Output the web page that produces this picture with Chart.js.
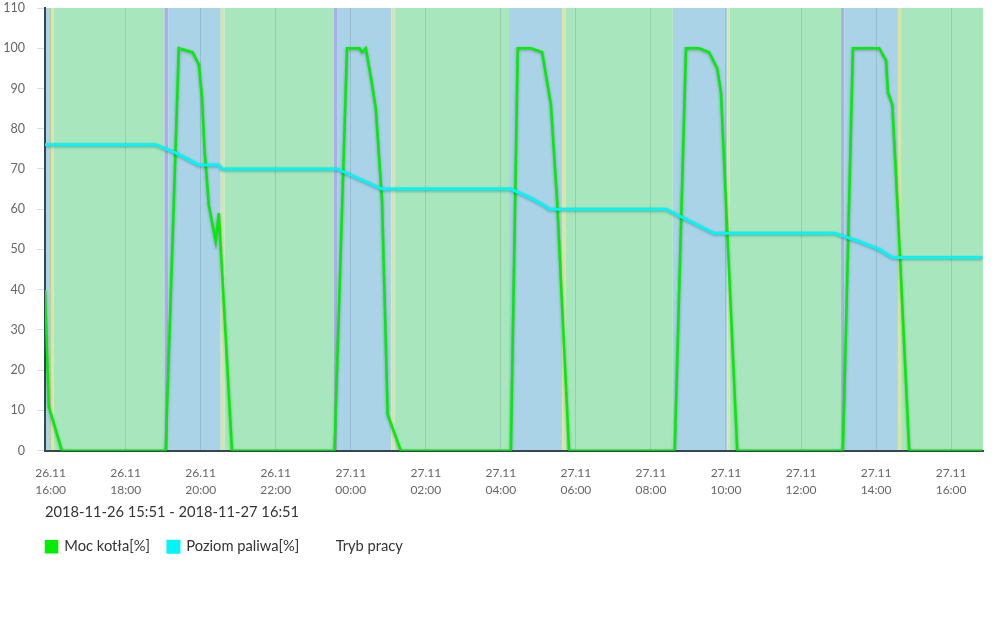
<!DOCTYPE html>
<html>
<head>
<meta charset="utf-8">
<script src="https://cdn.jsdelivr.net/npm/chart.js@4"></script>
<style>
  body { margin: 0; background: #fff; }
  #wrap { width: 1000px; height: 637px; position: relative; }
</style>
</head>
<body>
<div id="wrap"><canvas id="kociolChart"></canvas></div>
<script>
// times are "day.month HH:MM", all in 2018-11
const powerTimes = ['26.11 15:51', '26.11 15:57', '26.11 16:18', '26.11 19:04', '26.11 19:25', '26.11 19:47', '26.11 19:57', '26.11 20:02',
    '26.11 20:06', '26.11 20:13', '26.11 20:24', '26.11 20:29', '26.11 20:50', '26.11 23:34', '26.11 23:54', '27.11 00:14',
    '27.11 00:18', '27.11 00:24', '27.11 00:32', '27.11 00:40', '27.11 00:50', '27.11 00:59', '27.11 01:20', '27.11 04:16',
    '27.11 04:27', '27.11 04:48', '27.11 05:06', '27.11 05:20', '27.11 05:30', '27.11 05:49', '27.11 08:38', '27.11 08:56',
    '27.11 09:17', '27.11 09:33', '27.11 09:46', '27.11 09:52', '27.11 10:18', '27.11 13:07', '27.11 13:23', '27.11 14:05',
    '27.11 14:16', '27.11 14:19', '27.11 14:26', '27.11 14:34', '27.11 14:53', '27.11 16:50'];
const powerValues = [40, 11, 0, 0, 100, 99, 96, 88,
    75, 61, 52, 59, 0, 0, 100, 100,
    99, 100, 93, 85, 62, 9, 0, 0,
    100, 100, 99, 86, 62, 0, 0, 100,
    100, 99, 95, 89, 0, 0, 100, 100,
    97, 89, 86, 62, 0, 0];

const fuelTimes = ['26.11 15:51', '26.11 18:48', '26.11 19:20', '26.11 19:57', '26.11 20:02', '26.11 20:29', '26.11 20:34', '26.11 23:38',
    '27.11 00:50', '27.11 04:16', '27.11 04:45', '27.11 05:09', '27.11 05:17', '27.11 08:24', '27.11 09:41', '27.11 12:54',
    '27.11 13:33', '27.11 14:05', '27.11 14:26', '27.11 16:50'];
const fuelValues = [76, 76, 74, 71, 71, 71, 70, 70,
    65, 65, 63, 61, 60, 60, 54, 54,
    52, 50, 48, 48];

// Tryb pracy: each mode starts at modeStarts[i] and lasts until the next one
const modeStarts = ['26.11 15:51', '26.11 15:59', '26.11 16:05', '26.11 19:02', '26.11 19:08', '26.11 20:32', '26.11 20:38',
    '26.11 23:33', '26.11 23:38', '27.11 01:05', '27.11 01:10', '27.11 04:13', '27.11 05:38', '27.11 05:44', '27.11 08:35',
    '27.11 10:02', '27.11 10:06', '27.11 13:04', '27.11 13:09', '27.11 14:35', '27.11 14:40'];
const modeTypes = ['praca', 'wygaszanie', 'nadzor', 'rozpalanie', 'praca', 'wygaszanie', 'nadzor',
    'rozpalanie', 'praca', 'wygaszanie', 'nadzor', 'praca', 'wygaszanie', 'nadzor', 'praca',
    'wygaszanie', 'nadzor', 'rozpalanie', 'praca', 'wygaszanie', 'nadzor'];
const modeColors = {
    praca: '#aad3e8',
    nadzor: '#a8e7be',
    wygaszanie: '#d5e6a8',
    rozpalanie: '#aab0e6'
};

const rangeText = '2018-11-26 15:51 - 2018-11-27 16:51';
const startMinute = 15 * 60 + 51;
const rangeMinutes = 25 * 60;
const tickMinutes = [9, 129, 249, 369, 489, 609, 729, 849, 969, 1089, 1209, 1329, 1449];

function toMin(s) {
    const day = parseInt(s.slice(0, 2));
    const h = parseInt(s.slice(6, 8));
    const m = parseInt(s.slice(9, 11));
    return (day - 26) * 1440 + h * 60 + m - startMinute;
}

function pad(n) { return (n < 10 ? '0' : '') + n; }

Chart.defaults.font.family = 'Lato';

const bandsPlugin = {
    id: 'bands',
    beforeDraw(chart) {
        const { ctx, chartArea, scales } = chart;
        ctx.save();
        for (let i = 0; i < modeStarts.length; i++) {
            const x1 = scales.x.getPixelForValue(toMin(modeStarts[i]));
            const x2 = i + 1 < modeStarts.length ? scales.x.getPixelForValue(toMin(modeStarts[i + 1])) : chartArea.right;
            ctx.fillStyle = modeColors[modeTypes[i]];
            ctx.fillRect(x1, chartArea.top, x2 - x1, chartArea.bottom - chartArea.top);
        }
        ctx.restore();
    },
    afterLayout(chart) {
        // legend starts right at the plot's left edge
        if (chart.legend) chart.legend.left = chart.chartArea.left - 17;
    },
    beforeDatasetDraw(chart) {
        const ctx = chart.ctx;
        ctx.save();
        ctx.shadowColor = 'rgba(0,0,0,0.3)';
        ctx.shadowBlur = 3;
        ctx.shadowOffsetY = 1;
    },
    afterDatasetDraw(chart) {
        chart.ctx.restore();
    }
};

const ctx = document.getElementById('kociolChart').getContext('2d');
const kociolChart = new Chart(ctx, {
    type: 'line',
    data: {
        datasets: [
            {
                label: 'Moc kotła[%]',
                data: powerTimes.map((t, i) => ({ x: toMin(t), y: powerValues[i] })),
                borderColor: '#00ee00',
                backgroundColor: '#00ee00',
                borderWidth: 2.5,
                pointRadius: 0,
                order: 1
            },
            {
                label: 'Poziom paliwa[%]',
                data: fuelTimes.map((t, i) => ({ x: toMin(t), y: fuelValues[i] })),
                borderColor: '#00f6f6',
                backgroundColor: '#00f6f6',
                borderWidth: 3,
                pointRadius: 0,
                order: 0
            },
            {
                label: 'Tryb pracy',
                data: [],
                borderColor: 'transparent',
                backgroundColor: 'transparent',
                borderWidth: 0,
                order: 2
            }
        ]
    },
    options: {
        responsive: true,
        maintainAspectRatio: false,
        animation: false,
        layout: { padding: { top: 8, right: 17, bottom: 73, left: 0 } },
        scales: {
            x: {
                type: 'linear',
                min: 0,
                max: rangeMinutes,
                afterBuildTicks: axis => { axis.ticks = tickMinutes.map(v => ({ value: v })); },
                afterFit: axis => { axis.height = 47; },
                ticks: {
                    autoSkip: false,
                    maxRotation: 0,
                    padding: 14,
                    color: '#666',
                    font: { size: 12, lineHeight: 1.4 },
                    callback: v => {
                        const total = v + startMinute;
                        const day = 26 + Math.floor(total / 1440);
                        const hm = total % 1440;
                        return [day + '.11', pad(Math.floor(hm / 60)) + ':' + pad(hm % 60)];
                    }
                },
                grid: { color: 'rgba(0,0,0,0.1)', drawTicks: false },
                border: { color: '#37474f', width: 2 }
            },
            y: {
                min: 0,
                max: 110,
                afterFit: axis => {
                    axis.width = 45;
                    axis.paddingTop = 0;
                    axis.paddingBottom = 0;
                },
                ticks: { stepSize: 10, padding: 12, color: '#666', font: { size: 12.5 } },
                grid: { drawOnChartArea: false, color: '#ddd', tickLength: 8 },
                border: { color: '#37474f', width: 2 }
            }
        },
        plugins: {
            title: {
                display: true,
                text: rangeText,
                position: 'bottom',
                align: 'start',
                fullSize: false,
                weight: 500,
                color: '#333',
                font: { size: 14.7, weight: 'normal' },
                padding: { top: 6, bottom: 0 }
            },
            legend: {
                position: 'bottom',
                align: 'start',
                fullSize: false,
                labels: {
                    color: '#333',
                    font: { size: 14.7 },
                    boxWidth: 11,
                    boxHeight: 11,
                    padding: 18,
                    sort: (a, b) => a.datasetIndex - b.datasetIndex
                }
            },
            tooltip: { enabled: false }
        }
    },
    plugins: [bandsPlugin]
});
</script>
</body>
</html>
